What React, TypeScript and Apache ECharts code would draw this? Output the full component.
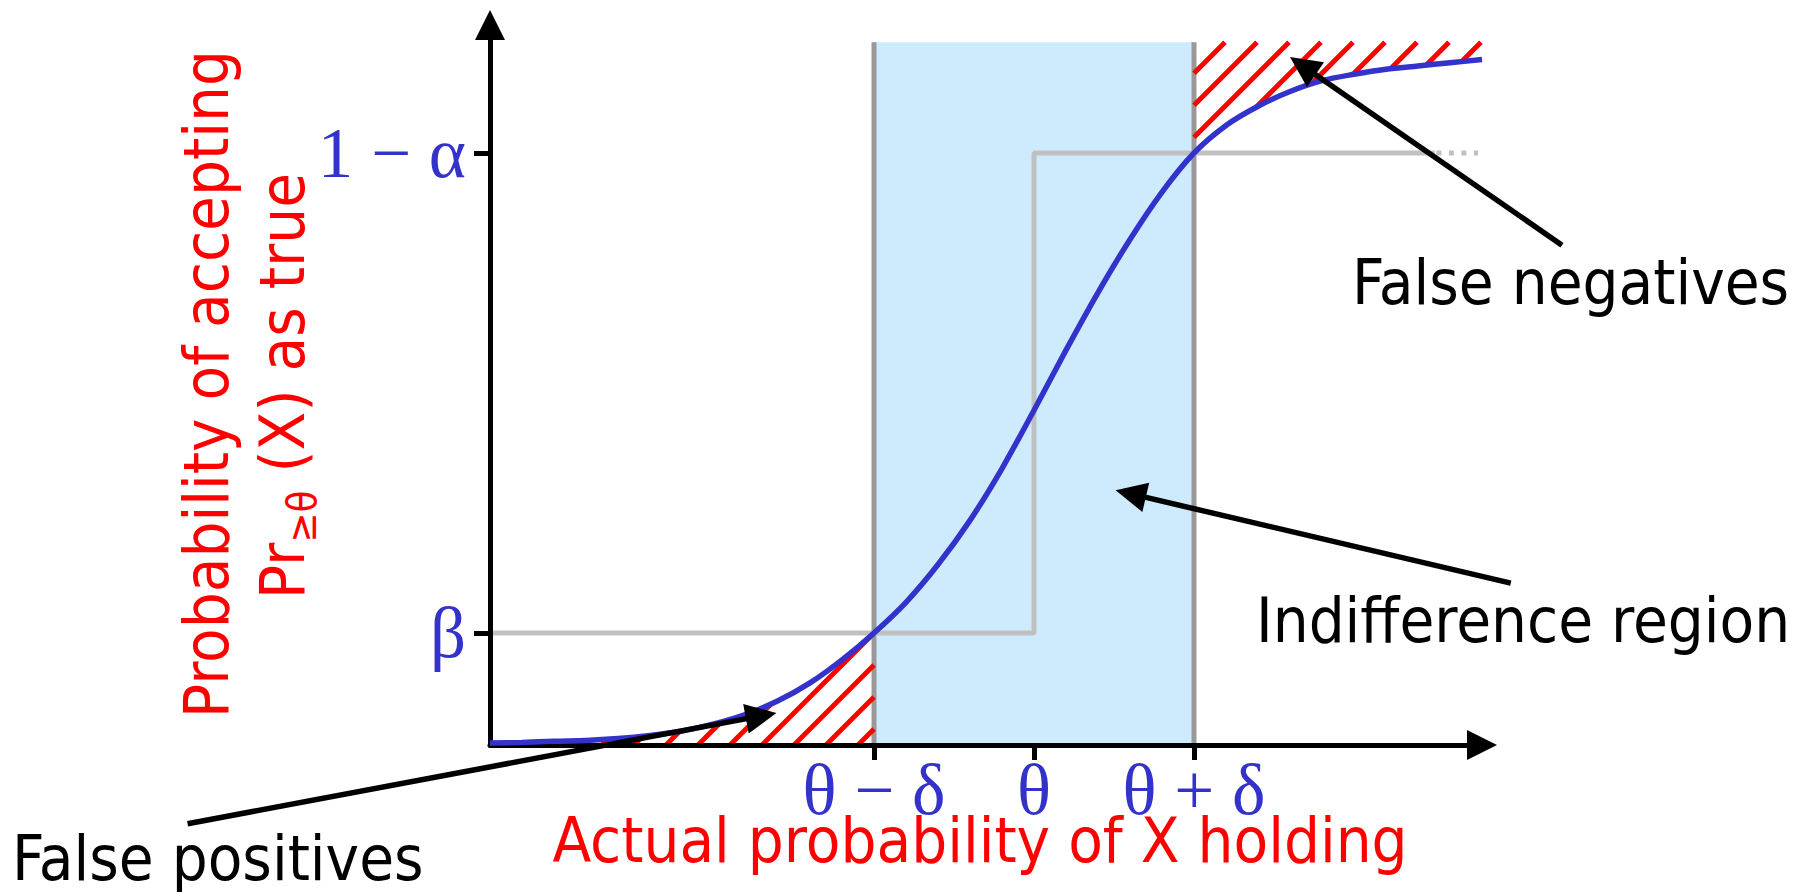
import React, { useEffect, useRef } from 'react';
import * as echarts from 'echarts';

// ---- axis ranges & ticks ----
const X_MIN = 0.16;
const X_MAX = 0.78;
const Y_MIN = 0.025;
const Y_MAX = 1.15;
const X_TICKS = [0.4, 0.5, 0.6];
const X_TICK_LABELS = ['θ − δ', 'θ', 'θ + δ'];
const Y_TICKS = [0.2, 0.95];
const Y_TICK_LABELS = ['β', '1 − α'];

// ---- operating characteristic curve ----
const CURVE_X = [
  0.16, 0.18, 0.2, 0.22, 0.24, 0.26, 0.28, 0.3, 0.32, 0.34, 0.36, 0.38, 0.4, 0.42, 0.44, 0.46,
  0.48, 0.5, 0.52, 0.54, 0.56, 0.58, 0.6, 0.62, 0.64, 0.66, 0.68, 0.7, 0.72, 0.74, 0.76, 0.78,
];
const CURVE_Y = [
  0.028, 0.029, 0.031, 0.032, 0.035, 0.04, 0.047, 0.058, 0.073, 0.094, 0.122, 0.158, 0.2, 0.248, 0.307, 0.376,
  0.457, 0.548, 0.642, 0.732, 0.815, 0.889, 0.95, 0.993, 1.023, 1.046, 1.063, 1.073, 1.081, 1.086, 1.091, 1.096,
];

// ---- ideal step (threshold) ----
const STEP_X = [0.16, 0.5, 0.5, 0.7505];
const STEP_Y = [0.2, 0.2, 0.95, 0.95];
const STEP_DOT_X = [0.7515, 0.7775];
const STEP_DOT_Y = [0.95, 0.95];

// ---- indifference region ----
const REGION_X = [0.4, 0.6];
const REGION_TOP = 1.123;

// ---- annotation arrows ----
const ARROW_NAMES = ['False negatives', 'Indifference region', 'False positives'];
const ARROW_TAIL_X = [0.83, 0.798, -0.029];
const ARROW_TAIL_Y = [0.806, 0.278, -0.098];
const ARROW_TIP_X = [0.66, 0.551, 0.339];
const ARROW_TIP_Y = [1.1, 0.423, 0.075];

const X_NAME = 'Actual probability of X holding';
const Y_NAME_1 = 'Probability of accepting';
const Y_NAME_2A = 'Pr';
const Y_NAME_2SUB = '≥θ';
const Y_NAME_2B = ' (X) as true';

const BLUE = '#3333cc';
const RED = '#ff0000';
const SANS = "'DejaVu Sans Condensed', 'DejaVu Sans', sans-serif";
const SERIF = "'Liberation Serif', 'DejaVu Serif', serif";

function hatchSegments(poly: number[][], cStart: number, step: number) {
  let minC = Infinity;
  let maxC = -Infinity;
  poly.forEach((p) => {
    const s = p[0] + p[1];
    minC = Math.min(minC, s);
    maxC = Math.max(maxC, s);
  });
  const k0 = Math.ceil((minC - cStart) / step);
  const k1 = Math.floor((maxC - cStart) / step);
  const segs: number[][][] = [];
  for (let k = k0; k <= k1; k++) {
    const c = cStart + k * step;
    const pts: number[][] = [];
    for (let i = 0; i < poly.length; i++) {
      const a = poly[i];
      const b = poly[(i + 1) % poly.length];
      const fa = a[0] + a[1] - c;
      const fb = b[0] + b[1] - c;
      if ((fa < 0 && fb >= 0) || (fa >= 0 && fb < 0)) {
        const t = fa / (fa - fb);
        pts.push([a[0] + t * (b[0] - a[0]), a[1] + t * (b[1] - a[1])]);
      }
    }
    pts.sort((p, q) => p[0] - q[0]);
    for (let j = 0; j + 1 < pts.length; j += 2) segs.push([pts[j], pts[j + 1]]);
  }
  return segs;
}

function measure(text: string, size: number, family: string) {
  const ctx = document.createElement('canvas').getContext('2d');
  if (!ctx) return text.length * size * 0.55;
  ctx.font = `${size}px ${family}`;
  return ctx.measureText(text).width;
}

export default function App() {
  const ref = useRef<HTMLDivElement>(null);

  useEffect(() => {
    if (!ref.current) return;
    const chart = echarts.init(ref.current, null, { renderer: 'svg' });

    const curveData = CURVE_X.map((x, i) => [x, CURVE_Y[i]]);

    const F = 63;
    const FS = 40;
    const wA = measure(Y_NAME_2A, F, SANS);
    const wS = measure(Y_NAME_2SUB, FS, SANS);
    const wB = measure(Y_NAME_2B, F, SANS);
    const centerY = 386;
    const start2 = centerY + (wA + wS + wB) / 2;

    const rotText = (text: string, x: number, y: number, size: number, align: string) => ({
      type: 'text',
      x,
      y,
      rotation: Math.PI / 2,
      style: {
        text,
        fill: RED,
        fontSize: size,
        fontFamily: SANS,
        align,
        verticalAlign: 'middle',
        textAlign: align,
        textVerticalAlign: 'middle',
      },
    });
    const flatText = (text: string, x: number, y: number, color: string, align: string) => ({
      type: 'text',
      x,
      y,
      style: {
        text,
        fill: color,
        fontSize: F,
        fontFamily: SANS,
        align,
        verticalAlign: 'middle',
        textAlign: align,
        textVerticalAlign: 'middle',
      },
    });

    const option: any = {
      animation: false,
      backgroundColor: '#ffffff',
      grid: { left: 490, top: 25, width: 992, height: 720, containLabel: false },
      xAxis: {
        type: 'value',
        min: X_MIN,
        max: X_MAX,
        z: 5,
        axisLine: {
          show: true,
          onZero: false,
          symbol: ['none', 'triangle'],
          symbolSize: [30, 30],
          lineStyle: { color: '#000', width: 5 },
        },
        axisTick: { show: true, customValues: X_TICKS, length: 15, lineStyle: { color: '#000', width: 5 } },
        axisLabel: {
          show: true,
          customValues: X_TICKS,
          formatter: (v: number) => X_TICK_LABELS[X_TICKS.findIndex((t) => Math.abs(t - v) < 1e-6)] || '',
          color: BLUE,
          fontFamily: SERIF,
          fontSize: 71,
          margin: 9,
        },
        splitLine: { show: false },
      },
      yAxis: {
        type: 'value',
        min: Y_MIN,
        max: Y_MAX,
        z: 5,
        axisLine: {
          show: true,
          onZero: false,
          symbol: ['none', 'triangle'],
          symbolSize: [30, 30],
          lineStyle: { color: '#000', width: 5 },
        },
        axisTick: { show: true, customValues: Y_TICKS, length: 16, lineStyle: { color: '#000', width: 5 } },
        axisLabel: {
          show: true,
          customValues: Y_TICKS,
          formatter: (v: number) => Y_TICK_LABELS[Y_TICKS.findIndex((t) => Math.abs(t - v) < 1e-6)] || '',
          color: BLUE,
          fontFamily: SERIF,
          fontSize: 71,
          margin: 24,
        },
        splitLine: { show: false },
      },
      series: [
        {
          type: 'custom',
          z: 1,
          clip: false,
          data: [[REGION_X[0], REGION_TOP]],
          renderItem: (params: any, api: any) => {
            const tl = api.coord([REGION_X[0], REGION_TOP]);
            const br = api.coord([REGION_X[1], Y_MIN]);
            return {
              type: 'group',
              children: [
                { type: 'rect', shape: { x: tl[0], y: tl[1], width: br[0] - tl[0], height: br[1] - tl[1] }, style: { fill: '#cdebfc' } },
                { type: 'line', shape: { x1: tl[0], y1: tl[1], x2: tl[0], y2: br[1] }, style: { stroke: '#999999', lineWidth: 5 } },
                { type: 'line', shape: { x1: br[0], y1: tl[1], x2: br[0], y2: br[1] }, style: { stroke: '#999999', lineWidth: 5 } },
              ],
            };
          },
        },
        {
          type: 'line',
          z: 3,
          data: STEP_X.map((x, i) => [x, STEP_Y[i]]),
          showSymbol: false,
          symbol: 'none',
          lineStyle: { color: '#c0c0c0', width: 5 },
          silent: true,
        },
        {
          type: 'line',
          z: 3,
          data: STEP_DOT_X.map((x, i) => [x, STEP_DOT_Y[i]]),
          showSymbol: false,
          symbol: 'none',
          lineStyle: { color: '#c0c0c0', width: 5, type: [5, 7.5] },
          silent: true,
        },
        {
          type: 'custom',
          z: 4,
          clip: false,
          data: [[X_MIN, Y_MIN]],
          renderItem: (params: any, api: any) => {
            const pts = curveData.map((d) => api.coord(d));
            const axisY = api.coord([X_MIN, Y_MIN])[1];
            const left = api.coord([REGION_X[0], Y_MIN]);
            const lower: number[][] = [api.coord([X_MIN, Y_MIN])];
            curveData.forEach((d, i) => {
              if (d[0] <= REGION_X[0] + 1e-9) lower.push(pts[i]);
            });
            lower.push([left[0], axisY]);
            const topLeft = api.coord([REGION_X[1], REGION_TOP]);
            const upper: number[][] = [topLeft];
            curveData.forEach((d, i) => {
              if (d[0] >= REGION_X[1] - 1e-9) upper.push(pts[i]);
            });
            const last = pts[pts.length - 1];
            upper.push([last[0] + 6, last[1]]);
            upper.push([last[0] + 6, topLeft[1]]);
            const cross = api.coord([REGION_X[0], Y_TICKS[0]]);
            const segs = hatchSegments(lower, cross[0] + cross[1], 32).concat(
              hatchSegments(upper, topLeft[0] + topLeft[1] + 31, 32)
            );
            return {
              type: 'group',
              children: segs.map((s) => ({
                type: 'line',
                shape: { x1: s[0][0], y1: s[0][1], x2: s[1][0], y2: s[1][1] },
                style: { stroke: RED, lineWidth: 5 },
              })),
            };
          },
        },
        {
          type: 'line',
          z: 6,
          data: curveData,
          smooth: 0.3,
          showSymbol: false,
          symbol: 'none',
          lineStyle: { color: BLUE, width: 5.5 },
          silent: true,
        },
        {
          type: 'custom',
          z: 8,
          clip: false,
          data: ARROW_NAMES.map((n, i) => [ARROW_TIP_X[i], ARROW_TIP_Y[i]]),
          renderItem: (params: any, api: any) => {
            const i = params.dataIndex;
            const tip = api.coord([ARROW_TIP_X[i], ARROW_TIP_Y[i]]);
            const tail = api.coord([ARROW_TAIL_X[i], ARROW_TAIL_Y[i]]);
            const dx = tip[0] - tail[0];
            const dy = tip[1] - tail[1];
            const len = Math.sqrt(dx * dx + dy * dy);
            const ux = dx / len;
            const uy = dy / len;
            const L = 31;
            const W = 15;
            const bx = tip[0] - ux * L;
            const by = tip[1] - uy * L;
            return {
              type: 'group',
              children: [
                { type: 'line', shape: { x1: tail[0], y1: tail[1], x2: bx + ux * 2, y2: by + uy * 2 }, style: { stroke: '#000', lineWidth: 5.5 } },
                {
                  type: 'polygon',
                  shape: { points: [tip, [bx - uy * W, by + ux * W], [bx + uy * W, by - ux * W]] },
                  style: { fill: '#000' },
                },
              ],
            };
          },
        },
      ],
      graphic: {
        elements: [
          flatText(ARROW_NAMES[0], 1352, 282, '#000', 'left'),
          flatText(ARROW_NAMES[1], 1256, 620, '#000', 'left'),
          flatText(ARROW_NAMES[2], 12, 858, '#000', 'left'),
          flatText(X_NAME, 980, 840, RED, 'center'),
          rotText(Y_NAME_1, 206, 384, F, 'center'),
          rotText(Y_NAME_2A, 282, start2, F, 'left'),
          rotText(Y_NAME_2SUB, 302, start2 - wA, FS, 'left'),
          rotText(Y_NAME_2B, 282, start2 - wA - wS, F, 'left'),
        ],
      },
    };

    chart.setOption(option);
    return () => chart.dispose();
  }, []);

  return (
    <div
      ref={ref}
      style={{ position: 'fixed', left: 0, top: 0, width: 1811, height: 892, background: '#fff' }}
    />
  );
}
